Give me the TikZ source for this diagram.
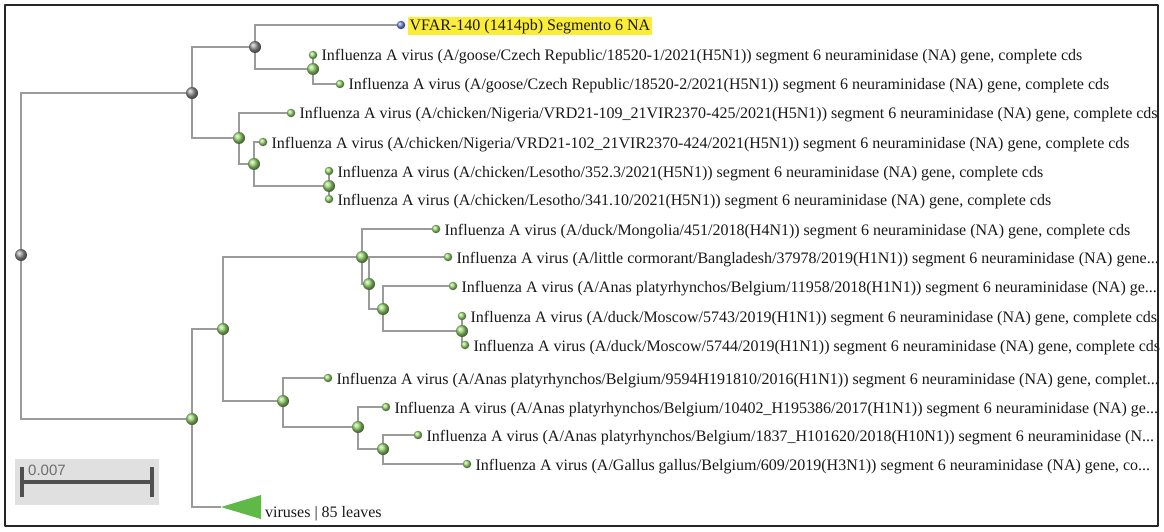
\documentclass[tikz,border=0pt]{standalone}
\usepackage{fontspec}
\setmainfont{Liberation Serif}
\newfontfamily\barfont{Liberation Sans}
\usetikzlibrary{backgrounds}
\definecolor{branchgray}{RGB}{155,155,155}
\definecolor{nodegreen}{RGB}{150,215,110}
\definecolor{nodegray}{RGB}{145,145,145}
\definecolor{queryblue}{RGB}{115,135,215}
\definecolor{cladegreen}{RGB}{95,185,70}
\definecolor{highlight}{RGB}{250,236,55}
\definecolor{barbox}{RGB}{224,224,224}
\definecolor{bardark}{RGB}{80,80,80}
\definecolor{bartext}{RGB}{110,110,110}
\definecolor{textblack}{RGB}{25,25,25}
\begin{document}
\begin{tikzpicture}[x=1pt,y=-1pt,line cap=round,line join=round,
    font=\fontsize{16}{19}\selectfont,
    branch/.style={draw=branchgray,line width=1.3pt},
    innode/.style={circle,inner sep=0,minimum size=12pt,ball color=nodegreen},
    graynode/.style={innode,ball color=nodegray},
    leafnode/.style={circle,inner sep=0,minimum size=8.5pt,ball color=nodegreen},
    leaflabel/.style={anchor=base west,inner sep=0,text=textblack}]
  \useasboundingbox (0,0) rectangle (1164,532);
  \node[graynode] (R) at (21,255) {};
  \node[graynode] (A) at (192,93) {};
  \node[graynode] (B) at (255,47) {};
  \node[innode] (C) at (313,69) {};
  \node[innode] (D) at (239,138) {};
  \node[innode] (E) at (254,164) {};
  \node[innode] (F) at (329,186) {};
  \node[innode] (G) at (192,419) {};
  \node[innode] (H) at (223,329) {};
  \node[innode] (I) at (362,257) {};
  \node[innode] (K) at (369,284) {};
  \node[innode] (L) at (383,309) {};
  \node[innode] (M) at (462,331) {};
  \node[innode] (J) at (283,401) {};
  \node[innode] (N) at (358,427) {};
  \node[innode] (O) at (383,449) {};
  \node[leafnode,ball color=queryblue] (l1) at (401,25) {};
  \node[leafnode] (l2) at (313,55) {};
  \node[leafnode] (l3) at (340,84) {};
  \node[leafnode] (l4) at (291,113) {};
  \node[leafnode] (l5) at (263,142) {};
  \node[leafnode] (l6) at (329,171) {};
  \node[leafnode] (l7) at (329,199) {};
  \node[leafnode] (l8) at (436,229) {};
  \node[leafnode] (l9) at (448,257) {};
  \node[leafnode] (l10) at (453,286) {};
  \node[leafnode] (l11) at (462,316) {};
  \node[leafnode] (l12) at (465,345) {};
  \node[leafnode] (l13) at (328,378) {};
  \node[leafnode] (l14) at (386,407) {};
  \node[leafnode] (l15) at (418,435) {};
  \node[leafnode] (l16) at (467,464) {};
  \coordinate (clade) at (221,507);
  \fill[cladegreen] (clade) -- (261,495) -- (261,519) -- cycle;
  \node[leaflabel,fill=highlight,inner xsep=1.5pt,inner ysep=1.5pt,text height=12.5pt,text depth=3pt]
    (t1) at ([shift={(2.5,6)}]l1.east) {VFAR-140 (1414pb) Segmento 6 NA};
  \node[leaflabel] (t2) at ([shift={(4,6)}]l2.east) {Influenza A virus (A/goose/Czech Republic/18520-1/2021(H5N1)) segment 6 neuraminidase (NA) gene, complete cds};
  \node[leaflabel] (t3) at ([shift={(4,6)}]l3.east) {Influenza A virus (A/goose/Czech Republic/18520-2/2021(H5N1)) segment 6 neuraminidase (NA) gene, complete cds};
  \node[leaflabel] (t4) at ([shift={(4,6)}]l4.east) {Influenza A virus (A/chicken/Nigeria/VRD21-109\_21VIR2370-425/2021(H5N1)) segment 6 neuraminidase (NA) gene, complete cds};
  \node[leaflabel] (t5) at ([shift={(4,6)}]l5.east) {Influenza A virus (A/chicken/Nigeria/VRD21-102\_21VIR2370-424/2021(H5N1)) segment 6 neuraminidase (NA) gene, complete cds};
  \node[leaflabel] (t6) at ([shift={(4,6)}]l6.east) {Influenza A virus (A/chicken/Lesotho/352.3/2021(H5N1)) segment 6 neuraminidase (NA) gene, complete cds};
  \node[leaflabel] (t7) at ([shift={(4,6)}]l7.east) {Influenza A virus (A/chicken/Lesotho/341.10/2021(H5N1)) segment 6 neuraminidase (NA) gene, complete cds};
  \node[leaflabel] (t8) at ([shift={(4,6)}]l8.east) {Influenza A virus (A/duck/Mongolia/451/2018(H4N1)) segment 6 neuraminidase (NA) gene, complete cds};
  \node[leaflabel] (t9) at ([shift={(4,6)}]l9.east) {Influenza A virus (A/little cormorant/Bangladesh/37978/2019(H1N1)) segment 6 neuraminidase (NA) gene...};
  \node[leaflabel] (t10) at ([shift={(4,6)}]l10.east) {Influenza A virus (A/Anas platyrhynchos/Belgium/11958/2018(H1N1)) segment 6 neuraminidase (NA) ge...};
  \node[leaflabel] (t11) at ([shift={(4,6)}]l11.east) {Influenza A virus (A/duck/Moscow/5743/2019(H1N1)) segment 6 neuraminidase (NA) gene, complete cds};
  \node[leaflabel] (t12) at ([shift={(4,6)}]l12.east) {Influenza A virus (A/duck/Moscow/5744/2019(H1N1)) segment 6 neuraminidase (NA) gene, complete cds};
  \node[leaflabel] (t13) at ([shift={(4,6)}]l13.east) {Influenza A virus (A/Anas platyrhynchos/Belgium/9594H191810/2016(H1N1)) segment 6 neuraminidase (NA) gene, complet...};
  \node[leaflabel] (t14) at ([shift={(4,6)}]l14.east) {Influenza A virus (A/Anas platyrhynchos/Belgium/10402\_H195386/2017(H1N1)) segment 6 neuraminidase (NA) ge...};
  \node[leaflabel] (t15) at ([shift={(4,6)}]l15.east) {Influenza A virus (A/Anas platyrhynchos/Belgium/1837\_H101620/2018(H10N1)) segment 6 neuraminidase (N...};
  \node[leaflabel] (t16) at ([shift={(4,6)}]l16.east) {Influenza A virus (A/Gallus gallus/Belgium/609/2019(H3N1)) segment 6 neuraminidase (NA) gene, co...};
  \node[leaflabel] (tclade) at (265,517) {viruses | 85 leaves};
  \fill[barbox] (15,459) rectangle (159,505);
  \draw[bardark,line width=3.5pt,line cap=butt] (22,482) -- (152,482);
  \draw[bardark,line width=4pt,line cap=butt] (22,467) -- (22,497);
  \draw[bardark,line width=4pt,line cap=butt] (152,467) -- (152,497);
  \node[anchor=base west,inner sep=0,text=bartext,font=\barfont\fontsize{15}{18}\selectfont] (scale) at (28,475) {0.007};
  \draw[line width=2.5pt,draw=black!85] (5,5) rectangle (1158,526);
  \begin{scope}[on background layer]
    \fill[white] (0,0) rectangle (1164,532);
    \path[branch] (R) |- (A) (R) |- (G)
      (A) |- (B) (A) |- (D)
      (B) |- (l1) (B) |- (C)
      (C) -- (l2) (C) |- (l3)
      (D) |- (l4) (D) |- (E)
      (E) |- (l5) (E) |- (F)
      (F) -- (l6) (F) -- (l7)
      (G) |- (H) (G) |- (clade)
      (H) |- (I) (H) |- (J)
      (I) |- (l8) (I) |- (K)
      (K) |- (l9) (K) |- (L)
      (L) |- (l10) (L) |- (M)
      (M) -- (l11) (M) |- (l12)
      (J) |- (l13) (J) |- (N)
      (N) |- (l14) (N) |- (O)
      (O) |- (l15) (O) |- (l16);
  \end{scope}
\end{tikzpicture}
\end{document}
